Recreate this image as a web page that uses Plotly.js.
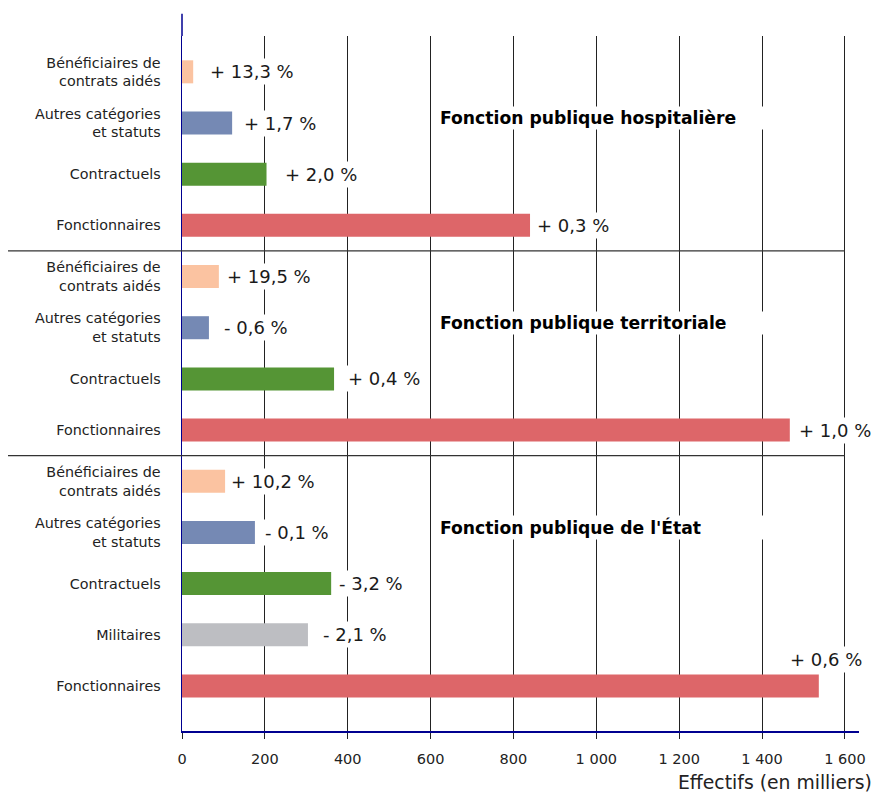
<!DOCTYPE html>
<html>
<head>
<meta charset="utf-8">
<script src="https://cdn.plot.ly/plotly-3.0.1.min.js"></script>
<style>html,body{margin:0;padding:0;background:#fff}#chart{width:872px;height:792px}</style>
</head>
<body>
<div id="chart"></div>
<script>
// ---- data (reading order, top to bottom) ----
const groupTitles = ['Fonction publique hospitalière', 'Fonction publique territoriale', "Fonction publique de l'État"];
const categories = [
  'Bénéficiaires de<br>contrats aidés', 'Autres catégories<br>et statuts', 'Contractuels', 'Fonctionnaires',
  'Bénéficiaires de<br>contrats aidés', 'Autres catégories<br>et statuts', 'Contractuels', 'Fonctionnaires',
  'Bénéficiaires de<br>contrats aidés', 'Autres catégories<br>et statuts', 'Contractuels', 'Militaires', 'Fonctionnaires'
];
const categoryType = ['benef', 'autres', 'contr', 'fonct', 'benef', 'autres', 'contr', 'fonct', 'benef', 'autres', 'contr', 'milit', 'fonct'];
const effectifs = [27, 121, 204, 840, 89, 65, 367, 1467, 104, 176, 360, 304, 1537];
const evolutions = ['+ 13,3 %', '+ 1,7 %', '+ 2,0 %', '+ 0,3 %', '+ 19,5 %', '- 0,6 %', '+ 0,4 %', '+ 1,0 %', '+ 10,2 %', '- 0,1 %', '- 3,2 %', '- 2,1 %', '+ 0,6 %'];
const groupOf = [0, 0, 0, 0, 1, 1, 1, 1, 2, 2, 2, 2, 2];
const xTickVals = [0, 200, 400, 600, 800, 1000, 1200, 1400, 1600];
const xTickText = ['0', '200', '400', '600', '800', '1 000', '1 200', '1 400', '1 600'];
const xTitle = 'Effectifs (en milliers)';

// ---- styles / label placement ----
const colors = {benef: '#FBC3A1', autres: '#7589B4', contr: '#559535', milit: '#BDBEC2', fonct: '#DD6669'};
const labelShiftX = [14, 9, 15, 4, 5, 12, 11, 6, 3, 7, 5, 12, -32];
const labelShiftY = [0, 0, 0, 0, 0, 0, 0, 0, 0, 0, 0, 0, 26];
const FONT = 'DejaVu Sans, Verdana, sans-serif';

const n = categories.length;
const yPos = categories.map((_, i) => n - 1 - i);

const trace = {
  type: 'bar', orientation: 'h',
  x: effectifs, y: yPos, width: 0.45,
  marker: {color: categoryType.map(t => colors[t])},
  hoverinfo: 'skip'
};

const annotations = [];
effectifs.forEach((v, i) => {
  annotations.push({
    x: v, y: yPos[i], xref: 'x', yref: 'y', text: evolutions[i], showarrow: false,
    xanchor: 'left', yanchor: 'middle', xshift: labelShiftX[i], yshift: labelShiftY[i],
    bgcolor: '#ffffff', borderpad: 2,
    font: {family: FONT, size: 18, color: '#1a1a1a'}
  });
});
// group titles at the "Autres catégories" row of each group
groupTitles.forEach((g, gi) => {
  const idx = categoryType.findIndex((t, i) => t === 'autres' && groupOf[i] === gi);
  annotations.push({
    x: 618, y: yPos[idx], xref: 'x', yref: 'y', text: '<b>' + g + '</b>', showarrow: false,
    xanchor: 'left', yanchor: 'middle', yshift: 5, align: 'left', width: 328,
    bgcolor: '#ffffff', borderpad: 1,
    font: {family: FONT, size: 17.2, color: '#000000'}
  });
});
annotations.push({
  x: 1, y: 0, xref: 'paper', yref: 'paper', text: xTitle, showarrow: false,
  xanchor: 'right', yanchor: 'middle', xshift: 15, yshift: -51,
  font: {family: FONT, size: 18.8, color: '#222'}
});

// separators between groups
const shapes = [];
for (let i = 1; i < n; i++) {
  if (groupOf[i] !== groupOf[i - 1]) {
    const ySep = (yPos[i] + yPos[i - 1]) / 2;
    shapes.push({type: 'line', xref: 'paper', yref: 'y', x0: -0.257, x1: 0.979, y0: ySep, y1: ySep,
      line: {color: '#333', width: 1.2}, layer: 'above'});
  }
}
// upward extension of the vertical axis
shapes.push({type: 'line', xref: 'paper', yref: 'paper', x0: 0, x1: 0, y0: 1, y1: 1.032,
  line: {color: '#000090', width: 1.5}});

const layout = {
  width: 872, height: 792,
  margin: {l: 182, r: 13, t: 36, b: 61},
  paper_bgcolor: '#fff', plot_bgcolor: '#fff',
  showlegend: false, hovermode: false,
  font: {family: FONT, color: '#222'},
  xaxis: {
    range: [0, 1634], tickvals: xTickVals, ticktext: xTickText,
    showgrid: true, gridcolor: '#222', gridwidth: 1, zeroline: false,
    showline: true, linecolor: '#000090', linewidth: 1.5,
    ticks: 'outside', ticklen: 6, tickcolor: '#222', tickwidth: 1, ticklabelstandoff: 8,
    tickfont: {family: FONT, size: 14.5, color: '#222'}
  },
  yaxis: {
    range: [-0.88, 12.7], tickvals: yPos, ticktext: categories,
    showgrid: false, zeroline: false,
    showline: true, linecolor: '#000090', linewidth: 1.5,
    ticks: '', ticklabelstandoff: 17,
    tickfont: {family: FONT, size: 14.3, color: '#222'}
  },
  shapes: shapes,
  annotations: annotations
};

Plotly.newPlot('chart', [trace], layout, {displayModeBar: false, staticPlot: true});
</script>
</body>
</html>
